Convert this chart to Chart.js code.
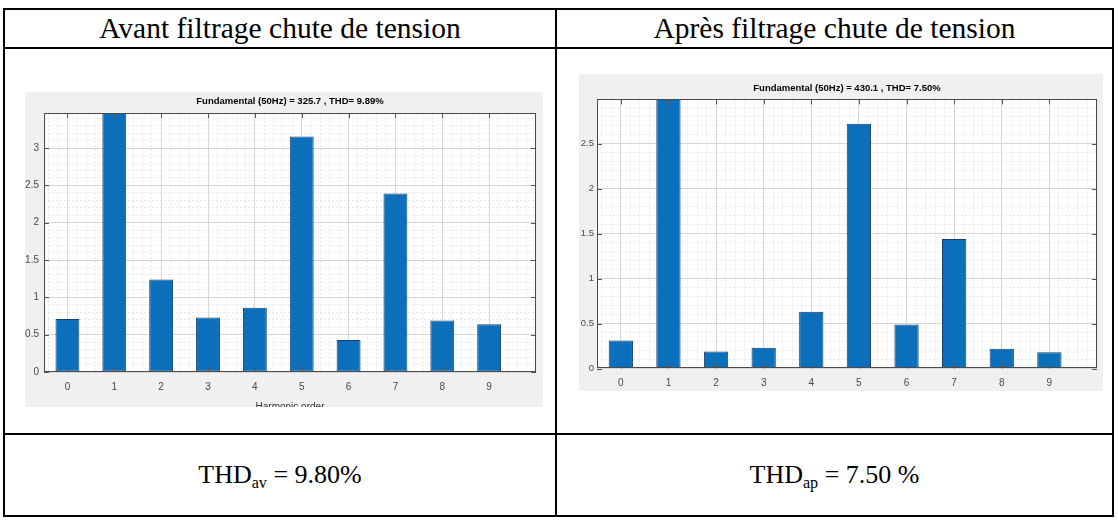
<!DOCTYPE html>
<html>
<head>
<meta charset="utf-8">
<script src="https://cdn.jsdelivr.net/npm/chart.js@4/dist/chart.umd.min.js"></script>
<style>
html,body{margin:0;padding:0;background:#fff;width:1118px;height:520px;overflow:hidden;}
body{position:relative;font-family:'Liberation Serif','Times New Roman',serif;color:#000;}
.ln{position:absolute;background:#000;}
.cell{position:absolute;text-align:center;white-space:nowrap;}
.hdr{font-size:29.5px;}
.res{font-size:26px;}
.res sub{font-size:0.62em;vertical-align:-0.3em;line-height:0;}
.img{position:absolute;background:#f0f0f0;}
.img canvas{display:block;}
</style>
</head>
<body>
<!-- table borders -->
<div class="ln" style="left:4px;top:8px;width:1110px;height:2px"></div>
<div class="ln" style="left:4px;top:47px;width:1110px;height:2px"></div>
<div class="ln" style="left:4px;top:433px;width:1110px;height:2px"></div>
<div class="ln" style="left:4px;top:515px;width:1110px;height:2px"></div>
<div class="ln" style="left:3px;top:8px;width:2px;height:509px"></div>
<div class="ln" style="left:555px;top:8px;width:2px;height:509px"></div>
<div class="ln" style="left:1112px;top:8px;width:2px;height:509px"></div>

<div class="cell hdr" style="left:5px;width:550px;top:10px;height:37px;line-height:37px">Avant filtrage chute de tension</div>
<div class="cell hdr" style="left:557px;width:555px;top:10px;height:37px;line-height:37px">Après filtrage chute de tension</div>

<div class="cell res" style="left:5px;width:550px;top:435px;height:80px;line-height:80px">THD<sub>av</sub> = 9.80%</div>
<div class="cell res" style="left:557px;width:555px;top:435px;height:80px;line-height:80px">THD<sub>ap</sub> = 7.50 %</div>

<div class="img" style="left:25px;top:92px;width:518px;height:315px"><canvas id="c1" width="518" height="315"></canvas></div>
<div class="img" style="left:579px;top:74px;width:524px;height:317px"><canvas id="c2" width="524" height="317"></canvas></div>

<script>
// ---- data ----
const harmonicOrders = [0, 1, 2, 3, 4, 5, 6, 7, 8, 9];
const avantValues = [0.71, 100, 1.24, 0.73, 0.86, 3.155, 0.43, 2.39, 0.69, 0.64];
const apresValues = [0.31, 100, 0.19, 0.23, 0.63, 2.72, 0.49, 1.44, 0.22, 0.18];
const avantYTicks = [0, 0.5, 1, 1.5, 2, 2.5, 3];
const apresYTicks = [0, 0.5, 1, 1.5, 2, 2.5];
const avantYMax = 3.47;
const apresYMax = 2.99;
const avantTitle = 'Fundamental (50Hz) = 325.7 , THD= 9.89%';
const apresTitle = 'Fundamental (50Hz) = 430.1 , THD= 7.50%';
const xAxisTitle = 'Harmonic order';
const xMin = -0.5, xMax = 10;

const FONT = "'Liberation Sans', Arial, sans-serif";

function stepTicks(min, max, step) {
  const out = [];
  const n0 = Math.ceil(min / step - 1e-9), n1 = Math.floor(max / step + 1e-9);
  for (let i = n0; i <= n1; i++) out.push({ value: +(i * step).toFixed(6) });
  return out;
}

const whiteArea = {
  id: 'whiteArea',
  beforeDraw(chart) {
    const { ctx, chartArea: a } = chart;
    ctx.save();
    ctx.fillStyle = '#ffffff';
    ctx.fillRect(a.left, a.top, a.right - a.left, a.bottom - a.top);
    ctx.restore();
  }
};

const frame = {
  id: 'frame',
  afterDatasetsDraw(chart) {
    const { ctx, chartArea: a } = chart;
    const x = chart.scales.x, y = chart.scales.y;
    const L = 5;
    ctx.save();
    ctx.strokeStyle = '#555555';
    ctx.lineWidth = 1;
    ctx.beginPath();
    x.ticks.forEach(t => {
      const px = Math.round(x.getPixelForValue(t.value)) + 0.5;
      ctx.moveTo(px, a.top); ctx.lineTo(px, a.top + L);
      ctx.moveTo(px, a.bottom); ctx.lineTo(px, a.bottom - L);
    });
    y.ticks.forEach(t => {
      const py = Math.round(y.getPixelForValue(t.value)) + 0.5;
      ctx.moveTo(a.left, py); ctx.lineTo(a.left + L, py);
      ctx.moveTo(a.right, py); ctx.lineTo(a.right - L, py);
    });
    ctx.stroke();
    ctx.strokeStyle = '#4a4a4a';
    ctx.strokeRect(Math.round(a.left) + 0.5, Math.round(a.top) + 0.5,
                   Math.round(a.right - a.left) - 1, Math.round(a.bottom - a.top) - 1);
    ctx.restore();
  }
};

function makeChart(id, values, yMax, yTicks, title, L) {
  return new Chart(document.getElementById(id), {
    type: 'bar',
    data: {
      datasets: [{
        data: harmonicOrders.map((h, i) => ({ x: h, y: values[i] })),
        backgroundColor: '#0b6fbb',
        borderColor: '#173f66',
        borderWidth: 1,
        borderSkipped: false,
        barPercentage: 0.51,
        categoryPercentage: 1,
        clip: 0
      }]
    },
    options: {
      responsive: false,
      animation: false,
      events: [],
      layout: { padding: { top: 0, right: L.padRight, bottom: 0, left: 0 } },
      plugins: {
        legend: { display: false },
        tooltip: { enabled: false },
        title: {
          display: true,
          text: title,
          fullSize: false,
          color: '#000',
          font: { family: FONT, size: 9.5, weight: 'bold', lineHeight: 1.2 },
          padding: { top: L.titleTop, bottom: L.titleBottom }
        }
      },
      scales: {
        x: {
          type: 'linear',
          min: xMin, max: xMax,
          offset: false,
          position: 'bottom',
          grid: { color: '#d6d6d6', drawTicks: false, offset: false, z: 0 },
          border: { display: false },
          ticks: { color: '#4a4a4a', font: { family: FONT, size: 10 }, padding: L.xTickPad, maxRotation: 0, autoSkip: false,
                   callback: v => String(v) },
          title: { display: true, text: xAxisTitle, color: '#333', font: { family: FONT, size: 10 },
                   padding: { top: 0, bottom: L.xTitlePadBottom } },
          afterBuildTicks: s => { s.ticks = harmonicOrders.map(v => ({ value: v })); },
          afterFit: s => { s.height = L.xHeight; }
        },
        xm: {
          type: 'linear',
          min: xMin, max: xMax,
          offset: false,
          position: 'bottom',
          z: -1,
          grid: { color: '#e9e9e9', drawTicks: false, offset: false },
          border: { display: false, dash: [2, 2] },
          ticks: { display: false },
          afterBuildTicks: s => { s.ticks = stepTicks(xMin, xMax, 0.2); },
          afterFit: s => { s.height = 0; }
        },
        y: {
          type: 'linear',
          min: 0, max: yMax,
          position: 'left',
          grid: { color: '#d6d6d6', drawTicks: false, z: 0 },
          border: { display: false },
          ticks: { color: '#4a4a4a', font: { family: FONT, size: L.yFont }, padding: L.yTickPad,
                   callback: v => String(v) },
          afterBuildTicks: s => { s.ticks = yTicks.map(v => ({ value: v })); },
          afterFit: s => { s.width = L.yWidth; }
        },
        ym: {
          type: 'linear',
          min: 0, max: yMax,
          position: 'left',
          z: -1,
          grid: { color: '#e9e9e9', drawTicks: false },
          border: { display: false, dash: [2, 2] },
          ticks: { display: false },
          afterBuildTicks: s => { s.ticks = stepTicks(0, yMax, 0.1); },
          afterFit: s => { s.width = 0; }
        }
      }
    },
    plugins: [whiteArea, frame]
  });
}

makeChart('c1', avantValues, avantYMax, avantYTicks, avantTitle,
  { padRight: 7, titleTop: 4, titleBottom: 5.6, xHeight: 35, xTickPad: 9, xTitlePadBottom: -6, yWidth: 19, yTickPad: 5, yFont: 10 });
makeChart('c2', apresValues, apresYMax, apresYTicks, apresTitle,
  { padRight: 6, titleTop: 9, titleBottom: 5, xHeight: 22.5, xTickPad: 9, xTitlePadBottom: -14, yWidth: 18, yTickPad: 3, yFont: 9.5 });
</script>
</body>
</html>
